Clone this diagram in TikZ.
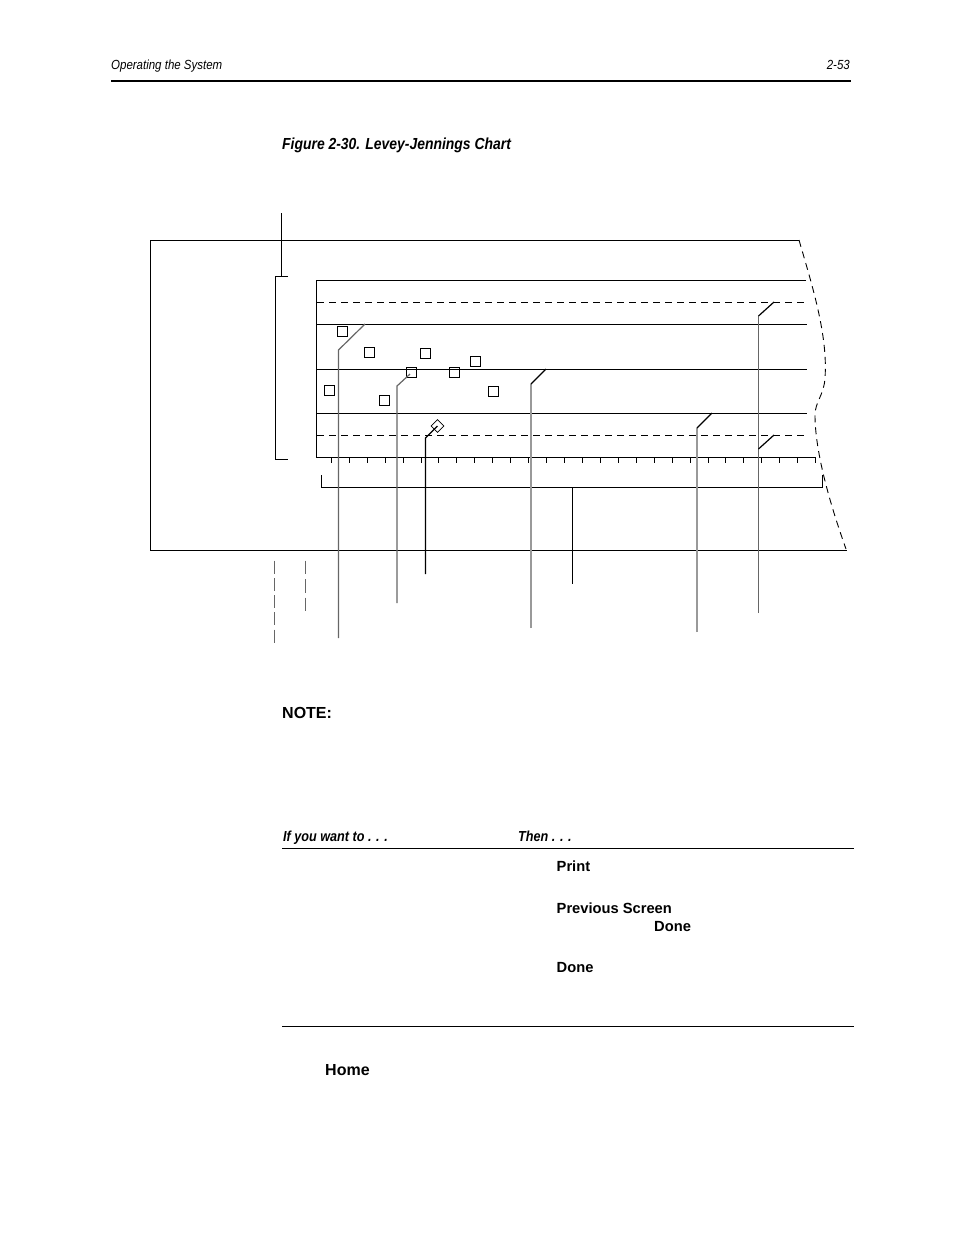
\documentclass[tikz,border=0pt]{standalone}
\usepackage{fontspec}
\setmainfont{Liberation Sans}
\newfontfamily\narrowfont[FakeStretch=0.87]{Liberation Sans}
\begin{document}
\begin{tikzpicture}[x=1pt,y=-1pt,line cap=butt]
	\tikzstyle{rule}=[line width=1.2pt,black];
	\tikzstyle{leader}=[line width=1.2pt,black!60];
	\tikzstyle{fatleader}=[line width=1.6pt,black!40];
	\tikzstyle{dashrule}=[line width=1.1pt,black,dash pattern=on 7pt off 5pt];
	\tikzstyle{mark1}=[line width=1.1pt,draw=black,fill=none,minimum size=10.5pt,inner sep=0pt];
	\tikzstyle{txt}=[inner sep=0pt,anchor=base west,font=\bfseries\fontsize{14.7}{16}\selectfont];
	\tikzstyle{ital}=[inner sep=0pt,anchor=base west,font=\narrowfont\itshape\fontsize{13.2}{14}\selectfont];
	\tikzstyle{boldital}=[inner sep=0pt,anchor=base west,font=\narrowfont\bfseries\itshape\fontsize{14.5}{16}\selectfont];
	\useasboundingbox (0,0) rectangle (954,1235);

	% header
	\node[ital] (running) at (111,69) {Operating the System};
	\node[ital,anchor=base east] (pageno) at (850,69) {2-53};
	\draw[line width=1.6pt] (111,81) -- (851,81);
	\node[boldital,font=\narrowfont\bfseries\itshape\fontsize{16}{17}\selectfont] (caption) at (282,149) {Figure 2-30. Levey-Jennings Chart};

	% window
	\draw[rule] (799,240.5) -- (150.5,240.5) -- (150.5,550.5) -- (847,550.5);
	\draw[dashrule,line width=0.9pt] (799,240) .. controls (812,285) and (828,335) .. (825,378)
		.. controls (824,395) and (815,402) .. (815,415)
		.. controls (815,445) and (825,490) .. (846,549);

	% chart
	\draw[rule] (806,280.5) -- (316.5,280.5) -- (316.5,457.5) -- (816,457.5);
	\foreach \y in {324.5,369.5,413.5}
		\draw[rule] (316,\y) -- (807,\y);
	\foreach \y in {302.5,435.5}
		\draw[dashrule] (317,\y) -- (808,\y);
	\foreach \x in {331.5,349.5,367.5,385.5,403.5,421.5,438.5,456.5,474.5,492.5,510.5,528.5,546.5,564.5,582.5,600.5,618.5,636.5,654.5,672.5,690.5,708.5,725.5,743.5,761.5,779.5,797.5,815.5}
		\draw[line width=1pt] (\x,457) -- (\x,463);

	% brackets
	\draw[rule] (288,276.5) -- (275.5,276.5) -- (275.5,459.5) -- (288,459.5);
	\draw[rule] (281.5,213) -- (281.5,276);
	\draw[rule] (321.5,475) -- (321.5,487.5) -- (822.5,487.5) -- (822.5,475);
	\draw[rule] (572.5,487) -- (572.5,584);

	% data points
	\foreach \x/\y [count=\i] in {342.5/331.5,369.5/352.5,425.5/353.5,475.5/361.5,411.5/372.5,454.5/372.5,329.5/390.5,384.5/400.5,493.5/391.5}
		\node[mark1] (pt\i) at (\x,\y) {};
	\node[mark1,rotate=45,minimum size=9pt,line width=0.6pt] (qc) at (437.5,426) {};

	% leaders
	\draw[leader] (338.5,638) -- (338.5,350) -- (365,324);
	\draw[leader] (397,603) -- (397,386) -- (410,374);
	\draw[rule] (425.5,574) -- (425.5,438) -- (qc.center);
	\draw[fatleader] (531,628) -- (531,384);
	\draw[rule] (531,384) -- (546,369);
	\draw[fatleader] (697,632) -- (697,428);
	\draw[rule] (697,428) -- (712,413);
	\draw[leader] (758.5,613) -- (758.5,316);
	\draw[rule] (758.5,316) -- (774,302);
	\draw[rule] (758.5,449) -- (774,435);

	% dashed stubs under the window
	\draw[leader,dash pattern=on 13pt off 4.3pt] (274.5,560.5) -- (274.5,643);
	\draw[leader,dash pattern=on 13.5pt off 5pt] (305.5,560.5) -- (305.5,612);

	% text below
	\node[txt,font=\bfseries\fontsize{16}{17}\selectfont] (note) at (282,718) {NOTE:};
	\node[boldital] (ifwant) at (283,841) {If you want to . . .};
	\node[boldital] (thenh) at (518,841) {Then . . .};
	\draw[line width=1pt] (282,848.5) -- (854,848.5);
	\node[txt] (print) at (556.5,871) {Print};
	\node[txt] (prev) at (556.5,913) {Previous Screen};
	\node[txt] (done1) at (654,931) {Done};
	\node[txt] (done2) at (556.5,972) {Done};
	\draw[line width=1pt] (282,1026.5) -- (854,1026.5);
	\node[txt,font=\bfseries\fontsize{16}{17}\selectfont] (home) at (325,1075) {Home};
\end{tikzpicture}
\end{document}
